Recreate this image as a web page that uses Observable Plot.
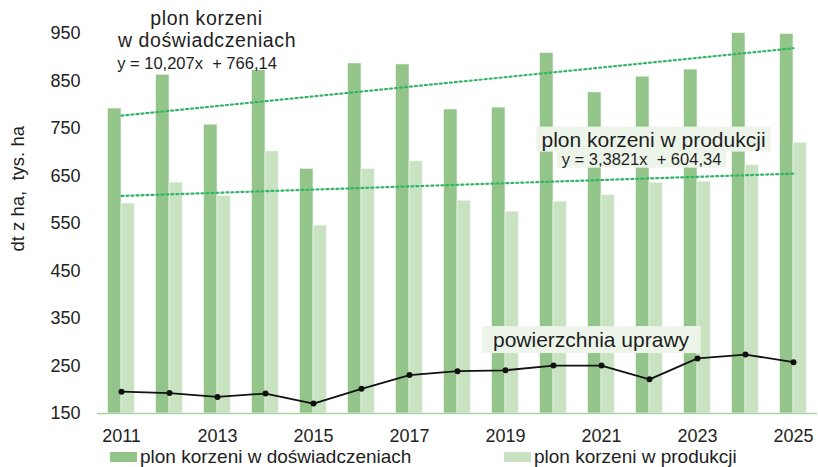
<!DOCTYPE html>
<html>
<head>
<meta charset="utf-8">
<script src="https://cdn.jsdelivr.net/npm/d3@7"></script>
<script src="https://cdn.jsdelivr.net/npm/@observablehq/plot@0.6"></script>
<style>
  html, body { margin: 0; padding: 0; background: #fff; }
  #chart { width: 818px; position: relative; font-family: "Liberation Sans", Arial, sans-serif; }
  #legend { position: relative; height: 21px; width: 818px; font-size: 19px; line-height: 21px; color: #222; }
  .item { position: absolute; top: 0; display: flex; align-items: center; white-space: nowrap; }
  .sw { width: 27px; height: 10px; margin-right: 3px; margin-top: 1px; }
</style>
</head>
<body>
<div id="chart"></div>
<script>
const years = [2011, 2012, 2013, 2014, 2015, 2016, 2017, 2018, 2019, 2020, 2021, 2022, 2023, 2024, 2025];
const plonDoswiadczenia = [792, 863, 758, 873, 665, 887, 885, 790, 794, 909, 826, 859, 874, 951, 949];
const plonProdukcja = [592, 636, 608, 702, 546, 665, 681, 598, 575, 596, 610, 636, 638, 673, 720];
const powierzchnia = [196, 193, 185, 192, 171, 202, 231, 239, 241, 251, 251, 222, 266, 274, 258];
const yTicks = [150, 250, 350, 450, 550, 650, 750, 850, 950];
const trendYears = [2011, 2025];
const trendDoswiadczenia = [777, 919];
const trendProdukcja = [608, 655];
const seriesNames = ["plon korzeni w doświadczeniach", "plon korzeni w produkcji"];
const lineName = "powierzchnia uprawy";
const titleDoswiadczenia = ["plon korzeni", "w doświadczeniach"];
const eqDoswiadczenia = "y = 10,207x\u00a0 + 766,14";
const eqProdukcja = "y = 3,3821x\u00a0 + 604,34";
const yTitle = "dt z ha,\u00a0 tys. ha";

const DARK = "#93c58a", LIGHT = "#c9e3c2", TREND = "#2fb565", BOXFILL = "#edf5ea";

const rows = years.map((y, i) => ({year: y, d: plonDoswiadczenia[i], p: plonProdukcja[i], a: powierzchnia[i]}));
const trendD = trendYears.map((y, i) => ({year: y, v: trendDoswiadczenia[i]}));
const trendP = trendYears.map((y, i) => ({year: y, v: trendProdukcja[i]}));

function label(str, year, value, opts) {
  return Plot.text([str], {x: year, y: value, text: d => d, fill: "#1e1e1e", textAnchor: "middle", ...opts});
}

const plot = Plot.plot({
  width: 818,
  height: 446,
  marginTop: 33,
  marginBottom: 33,
  marginLeft: 97,
  marginRight: 1,
  style: {fontFamily: "Liberation Sans, Arial, sans-serif", fontSize: "18px", color: "#222", background: "#fff", overflow: "visible"},
  x: {type: "band", domain: years, paddingInner: 0, paddingOuter: 0, tickSize: 0, tickPadding: 16,
      tickFormat: d => (d % 2 ? String(d) : ""), label: null},
  y: {domain: [150, 950], ticks: yTicks, tickSize: 0, tickPadding: 17, label: null},
  marks: [
    Plot.barY(rows, {x: "year", y1: 150, y2: "d", fill: DARK, stroke: "#ffffff", strokeOpacity: 0.55, strokeWidth: 1, insetLeft: 10.5, insetRight: 24}),
    Plot.barY(rows, {x: "year", y1: 150, y2: "p", fill: LIGHT, stroke: "#ffffff", strokeOpacity: 0.55, strokeWidth: 1, insetLeft: 24, insetRight: 10.5}),
    Plot.ruleY([150], {stroke: "#a8d5a0", strokeWidth: 1.5}),
    Plot.line(trendD, {x: "year", y: "v", stroke: TREND, strokeWidth: 2.2, strokeDasharray: "2,3"}),
    Plot.line(trendP, {x: "year", y: "v", stroke: TREND, strokeWidth: 2.2, strokeDasharray: "2,3"}),
    Plot.line(rows, {x: "year", y: "a", stroke: "#111", strokeWidth: 1.8}),
    Plot.dot(rows, {x: "year", y: "a", r: 3, fill: "#111", stroke: "none"}),
    label(titleDoswiadczenia[0], 2013, 981, {dx: -11, fontSize: 19.5, className: "spaced"}),
    label(titleDoswiadczenia[1], 2013, 935, {dx: -10.5, fontSize: 19.5, className: "spaced"}),
    label(eqDoswiadczenia, 2013, 886, {dx: -20.5, fontSize: 16.5}),
    label(seriesNames[1], 2022, 726, {dx: 4, fontSize: 21, className: "boxA"}),
    label(eqProdukcja, 2022, 685, {dx: -8, fontSize: 16.5, className: "boxB"}),
    label(lineName, 2021, 304, {dx: -10.5, fontSize: 21, className: "boxC"}),
    Plot.text([yTitle], {frameAnchor: "left", text: d => d, rotate: -90, dx: -79, dy: 28, fontSize: 18.5, fill: "#1e1e1e"})
  ]
});

const chart = document.getElementById("chart");
chart.appendChild(plot);
plot.querySelectorAll(".spaced text").forEach(t => t.setAttribute("letter-spacing", "0.6"));

// background boxes behind annotation texts, sized from the rendered text
const pads = {boxA: [5, 1], boxB: [5, 0], boxC: [11, 2]};
for (const [cls, [px, py]] of Object.entries(pads)) {
  const g = plot.querySelector("." + cls);
  if (!g) continue;
  const group = g.tagName.toLowerCase() === "g" ? g : g.parentNode;
  const t = group.querySelector("text");
  const bb = t.getBBox();
  const pm = plot.getScreenCTM().inverse().multiply(t.getScreenCTM());
  const x0 = pm.a * bb.x + pm.e, y0 = pm.d * bb.y + pm.f;
  const rect = document.createElementNS("http://www.w3.org/2000/svg", "rect");
  rect.setAttribute("x", x0 - px);
  rect.setAttribute("y", y0 - py);
  rect.setAttribute("width", bb.width + 2 * px);
  rect.setAttribute("height", bb.height + 2 * py);
  rect.setAttribute("fill", BOXFILL);
  group.parentNode.insertBefore(rect, group);
}

// legend
const legend = document.createElement("div");
legend.id = "legend";
const lefts = [110, 504];
const colors = [DARK, LIGHT];
seriesNames.forEach((name, i) => {
  const it = document.createElement("div");
  it.className = "item";
  it.style.left = lefts[i] + "px";
  const sw = document.createElement("span");
  sw.className = "sw";
  sw.style.background = colors[i];
  const tx = document.createElement("span");
  tx.textContent = name;
  it.appendChild(sw); it.appendChild(tx);
  legend.appendChild(it);
});
chart.appendChild(legend);
</script>
</body>
</html>
